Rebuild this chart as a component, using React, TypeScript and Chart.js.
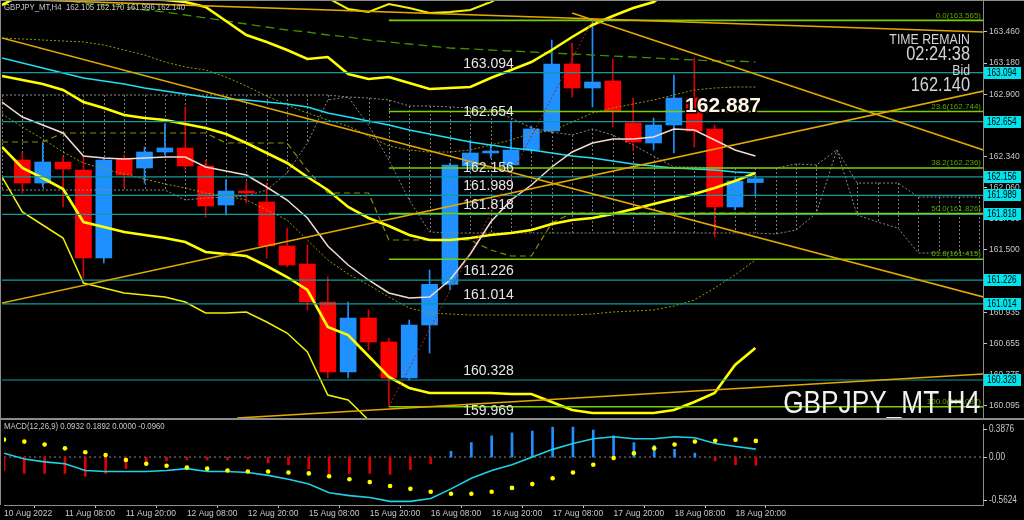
import React, { useEffect, useRef } from "react";
import { Chart, registerables } from "chart.js";

Chart.register(...registerables);

const FONT = "'Liberation Sans', Arial, sans-serif";
const NARROW_X = 0.82;

// ---------- header / labels ----------
const headerText = "GBPJPY_MT,H4  162.105 162.170 161.996 162.140";
const macdHeader = "MACD(12,26,9) 0.0932 0.1892 0.0000 -0.0960";
const symbolText = "GBPJPY_MT H4";
const timeRemainTitle = "TIME REMAIN";
const timeRemainValue = "02:24:38";
const bidTitle = "Bid";
const bidValue = "162.140";
const markerValue = 162.887;
const markerBar = 32.55;

// ---------- x axis ----------
const xMin = -1;
const xMax = 47.18;
const xTickIdx = [-1, 2, 5, 8, 11, 14, 17, 20, 23, 26, 29, 32, 35];
const xTickLabels = [
  "10 Aug 2022", "11 Aug 08:00", "11 Aug 20:00", "12 Aug 08:00", "12 Aug 20:00",
  "15 Aug 08:00", "15 Aug 20:00", "16 Aug 08:00", "16 Aug 20:00", "17 Aug 08:00",
  "17 Aug 20:00", "18 Aug 08:00", "18 Aug 20:00",
];

// ---------- price axis ----------
const priceMin = 159.986;
const priceMax = 163.739;
const priceTicks = [160.095, 160.375, 160.655, 160.935, 161.22, 161.5, 161.78, 162.06, 162.34, 162.62, 162.9, 163.18, 163.46];

// ---------- candles (bar 0..36) ----------
const opens = [162.308, 162.101, 162.290, 162.218, 161.426, 162.317, 162.236, 162.380, 162.416, 162.254, 161.903, 162.029, 161.930, 161.534, 161.372, 161.030, 160.400, 160.886, 160.670, 160.346, 160.823, 161.189, 162.254, 162.371, 162.263, 162.398, 162.569, 163.172, 162.956, 163.019, 162.641, 162.461, 162.623, 162.866, 162.587, 161.885, 162.105];
const highs = [162.371, 162.461, 162.335, 162.335, 162.326, 162.353, 162.425, 162.632, 162.785, 162.308, 162.128, 162.110, 162.101, 161.696, 161.543, 161.255, 161.030, 160.958, 160.706, 160.868, 161.318, 162.281, 162.488, 162.443, 162.650, 162.614, 163.388, 163.361, 163.565, 163.217, 162.866, 162.686, 163.073, 163.226, 162.623, 162.146, 162.170];
const lows = [162.011, 162.065, 161.885, 161.246, 161.381, 162.065, 162.101, 162.353, 162.218, 161.795, 161.813, 161.921, 161.426, 161.345, 160.958, 160.346, 160.346, 160.598, 160.087, 160.328, 160.571, 161.138, 162.218, 162.326, 162.236, 162.380, 162.551, 162.875, 162.785, 162.605, 162.398, 162.398, 162.371, 162.425, 161.615, 161.858, 161.996];
const closes = [162.101, 162.290, 162.227, 161.426, 162.308, 162.173, 162.380, 162.416, 162.254, 161.894, 162.029, 162.011, 161.534, 161.363, 161.030, 160.400, 160.886, 160.670, 160.346, 160.823, 161.189, 162.263, 162.371, 162.389, 162.398, 162.587, 163.172, 162.956, 163.010, 162.749, 162.470, 162.623, 162.866, 162.569, 161.885, 162.119, 162.140];

// ---------- indicator lines (start at bar -1) ----------
const lineStart = -1;
const maFast = [162.830, 162.695, 162.623, 162.551, 162.344, 162.326, 162.317, 162.326, 162.335, 162.335, 162.245, 162.209, 162.173, 162.065, 161.948, 161.786, 161.534, 161.363, 161.228, 161.111, 161.066, 161.075, 161.228, 161.462, 161.750, 161.948, 162.083, 162.245, 162.380, 162.461, 162.497, 162.497, 162.515, 162.587, 162.578, 162.488, 162.398, 162.344];
const bandMid = [163.064, 163.028, 162.992, 162.938, 162.830, 162.776, 162.713, 162.686, 162.668, 162.632, 162.596, 162.542, 162.461, 162.371, 162.281, 162.155, 162.038, 161.885, 161.786, 161.714, 161.633, 161.588, 161.588, 161.606, 161.633, 161.651, 161.678, 161.732, 161.768, 161.786, 161.822, 161.867, 161.912, 161.957, 162.002, 162.056, 162.119, 162.191];
const bandUpper = [163.703, 163.802, 163.838, 163.838, 163.883, 163.856, 163.784, 163.757, 163.748, 163.730, 163.685, 163.559, 163.433, 163.370, 163.298, 163.217, 163.235, 163.082, 163.037, 163.055, 163.001, 162.947, 162.956, 162.965, 163.046, 163.118, 163.190, 163.298, 163.415, 163.523, 163.604, 163.676, 163.730, 163.856, 163.856, 163.901, 163.775, 163.766];
const bandLower = [162.425, 162.236, 162.146, 162.047, 161.750, 161.705, 161.660, 161.633, 161.606, 161.570, 161.480, 161.462, 161.444, 161.354, 161.255, 161.138, 160.805, 160.733, 160.544, 160.355, 160.256, 160.211, 160.211, 160.211, 160.211, 160.202, 160.202, 160.130, 160.058, 160.031, 160.031, 160.031, 160.031, 160.058, 160.130, 160.211, 160.463, 160.616];
const bandLower3 = [162.155, 161.840, 161.723, 161.606, 161.201, 161.156, 161.111, 161.093, 161.075, 161.030, 160.931, 160.931, 160.940, 160.850, 160.751, 160.580, 160.193, 160.148, 159.968, 159.788, 159.653];
const bandUpper3Start = 13;
const bandUpper3 = [163.883, 163.793, 163.766, 163.667, 163.640, 163.712, 163.676, 163.631, 163.640, 163.658, 163.730, 163.820];
const maCyan = [163.226, 163.181, 163.136, 163.091, 163.046, 163.019, 162.992, 162.956, 162.929, 162.902, 162.875, 162.857, 162.848, 162.830, 162.812, 162.785, 162.731, 162.695, 162.659, 162.623, 162.578, 162.542, 162.506, 162.470, 162.443, 162.416, 162.398, 162.371, 162.344, 162.326, 162.299, 162.272, 162.254, 162.236, 162.227, 162.218, 162.200, 162.191];
const maSlow = [163.829, 163.802, 163.775, 163.748, 163.721, 163.703, 163.685, 163.658, 163.640, 163.613, 163.586, 163.559, 163.532, 163.505, 163.478, 163.460, 163.433, 163.415, 163.388, 163.370, 163.352, 163.334, 163.316, 163.307, 163.298, 163.289, 163.280, 163.271, 163.262, 163.253, 163.244, 163.235, 163.226, 163.217, 163.208, 163.199, 163.199, 163.190];
const oliveUpper = [163.406, 163.397, 163.388, 163.379, 163.370, 163.343, 163.298, 163.253, 163.190, 163.145, 163.118, 163.055, 162.974, 162.884, 162.803, 162.731, 162.668, 162.614, 162.524, 162.434, 162.398, 162.380, 162.380, 162.398, 162.443, 162.488, 162.551, 162.569, 162.650, 162.731, 162.776, 162.812, 162.848, 162.893, 162.938, 162.956, 162.965, 162.965];
const oliveLower = [162.722, 162.605, 162.497, 162.380, 162.281, 162.227, 162.182, 162.137, 162.092, 162.056, 162.011, 161.984, 161.948, 161.858, 161.768, 161.588, 161.408, 161.282, 161.183, 161.075, 160.976, 160.931, 160.922, 160.913, 160.913, 160.913, 160.913, 160.913, 160.913, 160.922, 160.940, 160.949, 160.958, 160.994, 161.048, 161.156, 161.273, 161.408];
const kijun = [162.470, 162.470, 162.470, 162.551, 162.551, 162.551, 162.551, 162.551, 162.551, 162.551, 162.551, 162.461, 162.461, 162.461, 162.461, 162.218, 162.011, 162.011, 162.011, 161.588, 161.588, 161.588, 161.588, 161.588, 161.498, 161.444, 161.444, 161.741, 161.831, 161.831, 161.831, 161.831, 161.831, 161.831, 161.831, 161.831, 161.831, 161.831];

// ---------- cloud spans (bar -1..47) ----------
const spanStart = -1;
const spanA = [162.893, 162.893, 162.893, 162.893, 162.893, 162.893, 162.893, 162.893, 162.893, 162.893, 162.893, 162.893, 162.893, 162.893, 162.893, 162.893, 162.893, 162.875, 162.866, 162.848, 162.794, 162.794, 162.785, 162.776, 162.758, 162.686, 162.596, 162.560, 162.533, 162.587, 162.533, 162.443, 162.344, 162.245, 162.245, 162.236, 162.236, 162.236, 162.236, 162.272, 162.263, 162.398, 162.101, 162.101, 162.101, 161.975, 161.975, 161.975, 161.975];
const spanB = [162.038, 162.038, 162.038, 162.038, 162.038, 162.038, 162.038, 162.038, 162.038, 161.948, 161.966, 161.975, 161.984, 162.038, 162.191, 162.461, 162.848, 162.875, 162.623, 162.308, 161.948, 161.660, 161.651, 161.651, 161.651, 161.651, 161.651, 161.651, 161.651, 161.651, 161.651, 161.651, 161.651, 161.651, 161.651, 161.651, 161.651, 161.651, 161.642, 161.678, 161.831, 162.398, 161.813, 161.750, 161.696, 161.471, 161.471, 161.471, 161.471];

// ---------- horizontal levels ----------
const levels = [163.094, 162.654, 162.156, 161.989, 161.818, 161.226, 161.014, 160.328, 159.969];
const levelLabelBar = 21.65;

// ---------- fibonacci ----------
const fibStartBar = 18;
const fibEndBar = 28;
const fibRatios = ["0.0", "23.6", "38.2", "50.0", "61.8", "100.0"];
const fibPrices = [163.565, 162.744, 162.236, 161.826, 161.415, 160.087];

// ---------- trend lines [x1, y1, x2, y2] ----------
const trendLines = [
  [-1, 163.757, 47.2, 163.460],
  [-1, 163.406, 47.2, 161.075],
  [-1, 161.021, 47.2, 162.929],
  [27, 163.632, 47.2, 162.398],
  [10.55, 159.986, 47.2, 160.382],
];

// ---------- MACD (bar -1..36) ----------
const macdMax = 0.3876;
const macdMin = -0.5624;
const macdHist = [-0.158, -0.192, -0.192, -0.192, -0.226, -0.192, -0.136, -0.090, -0.045, -0.034, -0.034, -0.034, -0.023, -0.068, -0.090, -0.136, -0.192, -0.192, -0.192, -0.204, -0.147, -0.079, 0.068, 0.170, 0.249, 0.283, 0.305, 0.351, 0.351, 0.317, 0.249, 0.170, 0.136, 0.090, 0.045, -0.045, -0.090, -0.096];
const macdLine = [0.045, -0.023, -0.057, -0.079, -0.158, -0.170, -0.170, -0.170, -0.158, -0.136, -0.170, -0.170, -0.181, -0.215, -0.260, -0.317, -0.419, -0.452, -0.475, -0.520, -0.520, -0.486, -0.373, -0.249, -0.158, -0.090, 0.000, 0.090, 0.158, 0.215, 0.238, 0.215, 0.215, 0.238, 0.226, 0.158, 0.124, 0.0932];
const macdSignal = [0.204, 0.181, 0.147, 0.102, 0.057, 0.023, -0.034, -0.079, -0.102, -0.124, -0.136, -0.158, -0.170, -0.170, -0.181, -0.192, -0.226, -0.260, -0.294, -0.340, -0.373, -0.407, -0.430, -0.430, -0.407, -0.362, -0.317, -0.249, -0.181, -0.090, -0.011, 0.045, 0.102, 0.147, 0.181, 0.192, 0.204, 0.1892];

// ---------- colours ----------
const BULL = "#1e90ff";
const BEAR = "#ff0000";
const BEAR_WICK = "#d80000";
const YELLOW = "#ffff00";
const GOLD = "#e0a800";
const TEAL = "#109c9c";
const FIB = "#78d000";
const AXIS_TEXT = "#c8c8c8";
const FRAME = "#8c8c8c";

const pts = (arr: (number | null)[], start: number) => arr.map((v, k) => ({ x: start + k, y: v }));

const lineDs = (data: any[], color: string, width: number, dash: number[], order: number) => ({
  type: "line",
  data,
  borderColor: color,
  backgroundColor: color,
  borderWidth: width,
  borderDash: dash,
  pointRadius: 0,
  tension: 0,
  fill: false,
  spanGaps: false,
  order,
});

function narrowText(ctx: any, text: string, x: number, y: number, align: string, sx = NARROW_X) {
  ctx.save();
  ctx.translate(x, y);
  ctx.scale(sx, 1);
  ctx.textAlign = align;
  ctx.fillText(text, 0, 0);
  ctx.restore();
}

const noPadV = (s: any) => {
  s.width = 41;
  s.paddingTop = 0;
  s.paddingBottom = 0;
};

const mainOverlay = {
  id: "mainOverlay",
  beforeDatasetsDraw(chart: any) {
    const { ctx, chartArea: a, scales } = chart;
    const x = scales.x;
    const y = scales.y;
    ctx.save();
    ctx.beginPath();
    ctx.rect(a.left, a.top, a.right - a.left, a.bottom - a.top);
    ctx.clip();
    ctx.strokeStyle = "#7a7a7a";
    ctx.lineWidth = 1;
    ctx.setLineDash([2, 2]);
    spanA.forEach((v, k) => {
      const px = Math.round(x.getPixelForValue(spanStart + k)) + 0.5;
      ctx.beginPath();
      ctx.moveTo(px, y.getPixelForValue(v));
      ctx.lineTo(px, y.getPixelForValue(spanB[k]));
      ctx.stroke();
    });
    ctx.restore();
  },
  afterDraw(chart: any) {
    const { ctx, chartArea: a, scales } = chart;
    const x = scales.x;
    const y = scales.y;
    ctx.save();
    ctx.setLineDash([]);

    // level labels
    ctx.font = `14px ${FONT}`;
    ctx.fillStyle = "#e6e6e6";
    ctx.textAlign = "left";
    ctx.textBaseline = "bottom";
    levels.forEach((v) => {
      ctx.fillText(v.toFixed(3), x.getPixelForValue(levelLabelBar), y.getPixelForValue(v) - 2);
    });

    // fib labels
    ctx.font = `8px ${FONT}`;
    ctx.fillStyle = "#5ea800";
    ctx.textAlign = "right";
    fibPrices.forEach((v, k) => {
      ctx.fillText(`${fibRatios[k]}(${v.toFixed(3)})`, a.right - 2, y.getPixelForValue(v) - 1);
    });

    // symbol big text
    ctx.font = `32px ${FONT}`;
    ctx.fillStyle = "#f2f2f2";
    ctx.textBaseline = "alphabetic";
    narrowText(ctx, symbolText, 980, 413, "right");

    // marker value
    ctx.font = `bold 21px ${FONT}`;
    ctx.textAlign = "left";
    ctx.lineWidth = 3;
    ctx.strokeStyle = "#000";
    const mx = x.getPixelForValue(markerBar);
    const my = y.getPixelForValue(markerValue) + 16;
    ctx.strokeText(markerValue.toFixed(3), mx, my);
    ctx.fillStyle = "#fff6ea";
    ctx.fillText(markerValue.toFixed(3), mx, my);

    // time remain / bid
    ctx.fillStyle = "#d4d4d4";
    ctx.font = `15px ${FONT}`;
    narrowText(ctx, timeRemainTitle, 970, 44, "right");
    ctx.font = `20px ${FONT}`;
    narrowText(ctx, timeRemainValue, 970, 60, "right");
    ctx.font = `15px ${FONT}`;
    narrowText(ctx, bidTitle, 970, 75, "right");
    ctx.font = `20px ${FONT}`;
    narrowText(ctx, bidValue, 970, 91, "right");

    // header
    ctx.font = `9.5px ${FONT}`;
    ctx.fillStyle = AXIS_TEXT;
    ctx.textBaseline = "middle";
    narrowText(ctx, headerText, 4, 7, "left");

    // axis price boxes
    levels.forEach((v) => {
      const py = y.getPixelForValue(v);
      if (py < a.top || py > a.bottom) return;
      ctx.fillStyle = "#00e4ee";
      ctx.fillRect(a.right + 1, Math.round(py) - 6, 37, 12);
      ctx.fillStyle = "#000";
      ctx.font = `10px ${FONT}`;
      ctx.textBaseline = "middle";
      narrowText(ctx, v.toFixed(3), a.right + 4, Math.round(py), "left");
    });

    // frame
    ctx.strokeStyle = FRAME;
    ctx.lineWidth = 1;
    ctx.beginPath();
    ctx.moveTo(0.5, 0);
    ctx.lineTo(0.5, 420);
    ctx.moveTo(0, 0.5);
    ctx.lineTo(1024, 0.5);
    ctx.stroke();
    ctx.fillStyle = FRAME;
    ctx.fillRect(0, 418, 1024, 2);
    ctx.restore();
  },
};

const macdOverlay = {
  id: "macdOverlay",
  afterDraw(chart: any) {
    const { ctx, chartArea: a, scales } = chart;
    const y = scales.y;
    ctx.save();
    ctx.strokeStyle = FRAME;
    ctx.lineWidth = 1;
    ctx.beginPath();
    ctx.moveTo(0.5, 0);
    ctx.lineTo(0.5, a.bottom);
    ctx.stroke();
    ctx.font = `9.5px ${FONT}`;
    ctx.fillStyle = AXIS_TEXT;
    ctx.textBaseline = "middle";
    narrowText(ctx, macdHeader, 4, 6, "left");
    const labels: [string, number][] = [
      [macdMax.toFixed(4), y.getPixelForValue(macdMax) + 5],
      ["0.00", y.getPixelForValue(0)],
      [macdMin.toFixed(4), y.getPixelForValue(macdMin) - 5],
    ];
    ctx.font = `10px ${FONT}`;
    labels.forEach(([t, py]) => {
      narrowText(ctx, t, a.right + 6, py, "left");
      ctx.beginPath();
      ctx.strokeStyle = AXIS_TEXT;
      ctx.moveTo(a.right, Math.round(py) + 0.5);
      ctx.lineTo(a.right + 4, Math.round(py) + 0.5);
      ctx.stroke();
    });
    ctx.restore();
  },
};

export default function App() {
  const mainRef = useRef<HTMLCanvasElement>(null);
  const macdRef = useRef<HTMLCanvasElement>(null);

  useEffect(() => {
    document.body.style.margin = "0";
    document.body.style.background = "#000";
    const candleIdx = opens.map((_, i) => i);
    const bull = (i: number) => closes[i] >= opens[i];

    const datasets: any[] = [
      {
        type: "bar",
        data: candleIdx.map((i) => ({ x: i, y: [lows[i], highs[i]] })),
        backgroundColor: candleIdx.map((i) => (bull(i) ? BULL : BEAR_WICK)),
        barThickness: 1,
        grouped: false,
        borderWidth: 0,
        order: 100,
      },
      {
        type: "bar",
        data: candleIdx.map((i) => ({ x: i, y: [opens[i], closes[i]] })),
        backgroundColor: candleIdx.map((i) => (bull(i) ? BULL : BEAR)),
        barThickness: 16,
        grouped: false,
        borderWidth: 0,
        order: 99,
      },
      lineDs(pts(spanA, spanStart), "#8a8a8a", 1, [2, 2], 90),
      lineDs(pts(spanB, spanStart), "#8a8a8a", 1, [2, 2], 90),
      lineDs(pts(oliveUpper, lineStart), "#9a9a00", 1, [2, 2], 85),
      lineDs(pts(oliveLower, lineStart), "#9a9a00", 1, [2, 2], 85),
      lineDs(pts(kijun, lineStart), "#8c8c00", 1.2, [6, 4], 85),
      lineDs(pts(maSlow, lineStart), "#3f8f00", 1.3, [9, 5], 80),
      lineDs(pts(maCyan, lineStart), "#1ee0f5", 1.6, [], 75),
      lineDs(pts(bandUpper3, bandUpper3Start), "#f0f000", 2, [], 72),
      lineDs(pts(bandLower3, lineStart), "#f0f000", 1.5, [], 72),
      lineDs(pts(bandUpper, lineStart), YELLOW, 2.6, [], 70),
      lineDs(pts(bandMid, lineStart), YELLOW, 2.6, [], 70),
      lineDs(pts(bandLower, lineStart), YELLOW, 2.6, [], 70),
      lineDs(pts(maFast, lineStart), "#f2dccf", 1.5, [], 65),
    ];
    levels.forEach((v) => datasets.push(lineDs([{ x: xMin, y: v }, { x: xMax, y: v }], TEAL, 1.2, [], 40)));
    fibPrices.forEach((v) => datasets.push(lineDs([{ x: fibStartBar, y: v }, { x: xMax, y: v }], FIB, 1.6, [], 30)));
    trendLines.forEach((t) => datasets.push(lineDs([{ x: t[0], y: t[1] }, { x: t[2], y: t[3] }], GOLD, 1.6, [], 20)));
    datasets.push(
      lineDs([{ x: fibStartBar, y: fibPrices[5] }, { x: fibEndBar, y: fibPrices[0] }], "#b82020", 1, [2, 2], 10)
    );

    const c1 = new Chart(mainRef.current as HTMLCanvasElement, {
      type: "line",
      data: { datasets },
      options: {
        responsive: false,
        devicePixelRatio: 1,
        animation: false,
        events: [],
        layout: { padding: { left: 2, top: 1, right: 0, bottom: 2 } },
        plugins: { legend: { display: false }, tooltip: { enabled: false } },
        scales: {
          x: { type: "linear", min: xMin, max: xMax, display: false, offset: false },
          y: {
            type: "linear",
            position: "right",
            min: priceMin,
            max: priceMax,
            afterFit: noPadV,
            afterBuildTicks: (s: any) => {
              s.ticks = priceTicks.map((v) => ({ value: v }));
            },
            ticks: {
              color: AXIS_TEXT,
              font: { family: FONT, size: 8.5 },
              padding: 2,
              callback: (v: any) => Number(v).toFixed(3),
            },
            grid: { drawOnChartArea: false, drawTicks: true, tickLength: 4, color: AXIS_TEXT },
            border: { display: true, color: FRAME },
          },
        },
      } as any,
      plugins: [mainOverlay],
    } as any);

    const histIdx = macdHist.map((_, k) => lineStart + k);
    const c2 = new Chart(macdRef.current as HTMLCanvasElement, {
      type: "line",
      data: {
        datasets: [
          lineDs([{ x: xMin, y: 0 }, { x: xMax, y: 0 }], "#8a8a8a", 1, [2, 3], 100),
          {
            type: "bar",
            data: macdHist.map((v, k) => ({ x: histIdx[k], y: v })),
            backgroundColor: macdHist.map((v) => (v >= 0 ? BULL : "#e00000")),
            barThickness: 2,
            grouped: false,
            borderWidth: 0,
            order: 90,
          },
          lineDs(pts(macdLine, lineStart), "#1ed2e6", 1.6, [], 50),
          {
            type: "line",
            data: pts(macdSignal, lineStart),
            showLine: false,
            pointRadius: 2.3,
            pointBorderWidth: 0,
            pointBackgroundColor: YELLOW,
            borderColor: YELLOW,
            order: 10,
          },
        ],
      },
      options: {
        responsive: false,
        devicePixelRatio: 1,
        animation: false,
        events: [],
        layout: { padding: { left: 2, top: 1, right: 0, bottom: 0 } },
        plugins: { legend: { display: false }, tooltip: { enabled: false } },
        scales: {
          x: {
            type: "linear",
            min: xMin,
            max: xMax,
            offset: false,
            position: "bottom",
            afterFit: (s: any) => {
              s.height = 15;
              s.paddingLeft = 0;
              s.paddingRight = 0;
            },
            afterBuildTicks: (s: any) => {
              s.ticks = xTickIdx.map((v) => ({ value: v }));
            },
            ticks: {
              align: "start",
              autoSkip: false,
              maxRotation: 0,
              minRotation: 0,
              color: AXIS_TEXT,
              font: { family: FONT, size: 8.5 },
              padding: 1,
              callback: (_v: any, i: number) => xTickLabels[i],
            },
            grid: { drawOnChartArea: false, drawTicks: true, tickLength: 3, color: AXIS_TEXT },
            border: { display: true, color: FRAME },
          },
          y: {
            type: "linear",
            position: "right",
            min: macdMin,
            max: macdMax,
            afterFit: noPadV,
            ticks: { display: false },
            grid: { display: false },
            border: { display: true, color: FRAME },
          },
        },
      } as any,
      plugins: [macdOverlay],
    } as any);

    return () => {
      c1.destroy();
      c2.destroy();
    };
  }, []);

  return (
    <div style={{ position: "absolute", left: 0, top: 0, width: 1024, height: 520, background: "#000", overflow: "hidden" }}>
      <canvas ref={mainRef} width={1024} height={420} style={{ position: "absolute", left: 0, top: 0 }} />
      <canvas ref={macdRef} width={1024} height={100} style={{ position: "absolute", left: 0, top: 420 }} />
    </div>
  );
}
